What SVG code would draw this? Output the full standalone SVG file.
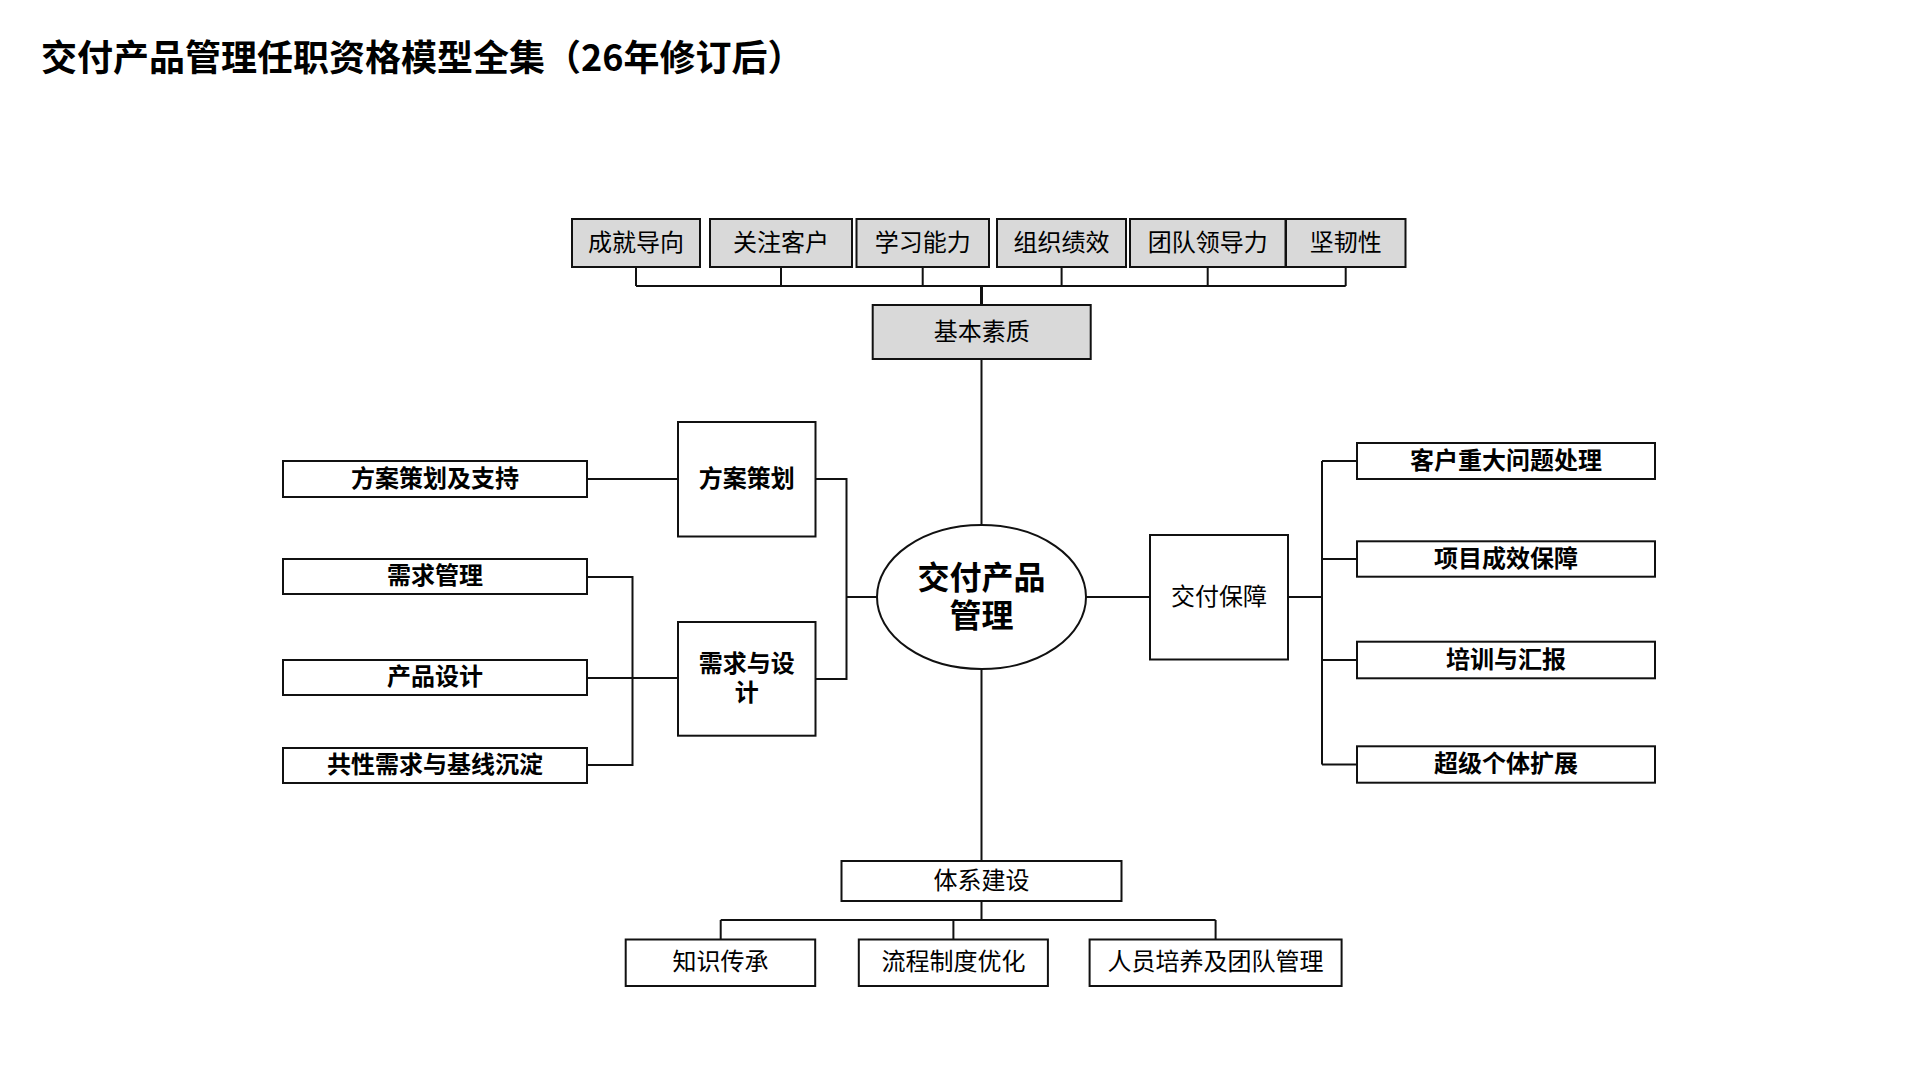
<svg xmlns="http://www.w3.org/2000/svg" width="1920" height="1080" viewBox="0 0 1920 1080">
<style>
.bx{fill:#ffffff;stroke:#111111;stroke-width:2}
.gb{fill:#d9d9d9;stroke:#111111;stroke-width:2}
.t{font-family:"Noto Sans CJK SC","Noto Sans",sans-serif;font-size:24px;fill:#000;text-anchor:middle;dominant-baseline:central}
.b{font-weight:bold}
.ln{fill:none;stroke:#111111;stroke-width:2}
</style>
<rect width="1920" height="1080" fill="#ffffff"/>
<text x="41" y="71" style="font-family:'Noto Sans CJK SC','Noto Sans',sans-serif;font-size:36px;font-weight:bold;fill:#000">交付产品管理任职资格模型全集（26年修订后）</text>

<g id="connectors">
<path class="ln" d="M636,267V286M781,267V286M922.7,267V286M1061.6,267V286M1207.7,267V286M1345.7,267V286M636,286H1345.7"/>
<path class="ln" style="stroke-width:3" d="M981.5,286V305"/>
<path class="ln" d="M981.5,359V525M981.5,669V861"/>
<path class="ln" d="M587,479H678M815.5,479H846.5V679H815.5M846.5,597H877"/>
<path class="ln" d="M587,577H632.5V765H587M587,678H678"/>
<path class="ln" d="M1086,597H1150M1288,597H1322M1322,461V764.5M1322,461H1357M1322,559H1357M1322,660H1357M1322,764.5H1357"/>
<path class="ln" d="M981.5,901V920M720.7,920H1215.6M720.7,920V939.5M953.4,920V939.5M1215.6,920V939.5"/>
</g>

<g id="n-chengjiu"><rect class="gb" x="572" y="219" width="128" height="48"/><text class="t" x="636" y="240">成就导向</text></g>
<g id="n-guanzhu"><rect class="gb" x="710" y="219" width="142" height="48"/><text class="t" x="781" y="240">关注客户</text></g>
<g id="n-xuexi"><rect class="gb" x="856.5" y="219" width="132.5" height="48"/><text class="t" x="922.7" y="240">学习能力</text></g>
<g id="n-zuzhi"><rect class="gb" x="997" y="219" width="129" height="48"/><text class="t" x="1061.6" y="240">组织绩效</text></g>
<g id="n-tuandui"><rect class="gb" x="1130" y="219" width="155.5" height="48"/><text class="t" x="1207.7" y="240">团队领导力</text></g>
<g id="n-jianren"><rect class="gb" x="1286" y="219" width="119.5" height="48"/><text class="t" x="1345.7" y="240">坚韧性</text></g>

<g id="n-jiben"><rect class="gb" x="872.7" y="305" width="218" height="54"/><text class="t" x="981.7" y="329">基本素质</text></g>

<g id="n-center"><ellipse cx="981.5" cy="597" rx="104.5" ry="72" fill="#ffffff" stroke="#111111" stroke-width="2"/>
<text class="t b" style="font-size:32px" x="981.5" y="575">交付产品</text>
<text class="t b" style="font-size:32px" x="981.5" y="613">管理</text></g>

<g id="n-fangan"><rect class="bx" x="678" y="422" width="137.5" height="114.5"/><text class="t b" x="746.8" y="476">方案策划</text></g>
<g id="n-xuqiusheji"><rect class="bx" x="678" y="622" width="137.5" height="113.7"/><text class="t b" x="746.8" y="661">需求与设</text><text class="t b" x="746.8" y="690">计</text></g>

<g id="n-fanganzhichi"><rect class="bx" x="283" y="461" width="304" height="36"/><text class="t b" x="435" y="476">方案策划及支持</text></g>
<g id="n-xuqiuguanli"><rect class="bx" x="283" y="559" width="304" height="35"/><text class="t b" x="435" y="573.5">需求管理</text></g>
<g id="n-chanpinsheji"><rect class="bx" x="283" y="660" width="304" height="35"/><text class="t b" x="435" y="674.5">产品设计</text></g>
<g id="n-gongxing"><rect class="bx" x="283" y="748" width="304" height="35"/><text class="t b" x="435" y="762.5">共性需求与基线沉淀</text></g>

<g id="n-jiaofubaozhang"><rect class="bx" x="1150" y="535" width="138" height="124.5"/><text class="t" x="1219" y="594">交付保障</text></g>

<g id="n-kehu"><rect class="bx" x="1357" y="443" width="298" height="36"/><text class="t b" x="1506" y="458">客户重大问题处理</text></g>
<g id="n-xiangmu"><rect class="bx" x="1357" y="541.3" width="298" height="35.4"/><text class="t b" x="1506" y="556">项目成效保障</text></g>
<g id="n-peixun"><rect class="bx" x="1357" y="641.7" width="298" height="36.6"/><text class="t b" x="1506" y="657">培训与汇报</text></g>
<g id="n-chaoji"><rect class="bx" x="1357" y="746.3" width="298" height="36.4"/><text class="t b" x="1506" y="761.5">超级个体扩展</text></g>

<g id="n-tixi"><rect class="bx" x="841.5" y="861" width="280" height="40"/><text class="t" x="981.5" y="878">体系建设</text></g>
<g id="n-zhishi"><rect class="bx" x="625.7" y="939.5" width="189.5" height="46.5"/><text class="t" x="720.5" y="959.7">知识传承</text></g>
<g id="n-liucheng"><rect class="bx" x="858.8" y="939.5" width="189.1" height="46.5"/><text class="t" x="953.4" y="959.7">流程制度优化</text></g>
<g id="n-renyuan"><rect class="bx" x="1089.6" y="939.5" width="252" height="46.5"/><text class="t" x="1215.6" y="959.7">人员培养及团队管理</text></g>
</svg>
